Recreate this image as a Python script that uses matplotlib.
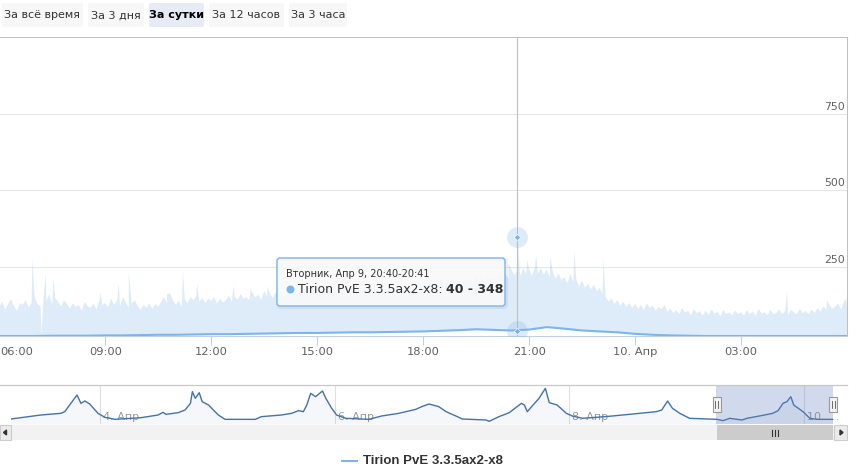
import numpy as np
import matplotlib
matplotlib.use('Agg')
import matplotlib.pyplot as plt
from matplotlib.patches import FancyBboxPatch, Polygon, Circle
from matplotlib.lines import Line2D
from matplotlib.transforms import IdentityTransform

plt.rcParams['font.family'] = ['DejaVu Sans']

# ---------------- data ----------------
series_name = "Tirion PvE 3.3.5ax2-x8"
buttons = ["За всё время", "За 3 дня", "За сутки", "За 12 часов", "За 3 часа"]
selected_button = 2

# main window: hours since Apr 9 00:00
window = (6.02, 30.0)
# max values, every 5 minutes from 06:00 Apr 9 to 06:00 Apr 10 (one row per hour)
high_base = [
    118, 135, 110, 128, 142, 120, 105, 130, 125, 140, 115, 132,   # 06
    150, 128, 120, 145, 138, 160, 125, 148, 135, 120, 140, 128,   # 07
    112, 130, 118, 125, 105, 135, 120, 115, 128, 110, 140, 125,   # 08
    130, 118, 145, 125, 138, 120, 150, 132, 115, 128, 140, 122,   # 09
    108, 125, 115, 130, 112, 128, 118, 135, 150, 128, 162, 140,   # 10
    125, 138, 118, 145, 130, 150, 140, 155, 135, 148, 130, 145,   # 11
    138, 150, 128, 145, 132, 140, 155, 135, 150, 142, 160, 145,   # 12
    150, 140, 165, 148, 158, 142, 170, 150, 160, 148, 168, 155,   # 13
    160, 150, 172, 158, 165, 155, 175, 160, 170, 158, 180, 165,   # 14
    168, 158, 180, 165, 175, 162, 185, 170, 178, 165, 188, 172,   # 15
    175, 165, 185, 172, 180, 170, 190, 178, 185, 172, 195, 180,   # 16
    182, 172, 192, 180, 188, 176, 198, 185, 190, 178, 200, 188,   # 17
    190, 180, 200, 188, 195, 185, 208, 192, 200, 188, 212, 198,   # 18
    205, 192, 215, 200, 210, 198, 220, 205, 215, 202, 225, 210,   # 19
    215, 205, 230, 215, 225, 210, 240, 222, 235, 218, 245, 225,   # 20
    240, 220, 250, 228, 245, 225, 240, 215, 235, 210, 228, 205,   # 21
    215, 195, 225, 200, 210, 185, 205, 180, 195, 175, 190, 170,   # 22
    180, 160, 150, 135, 145, 128, 140, 122, 135, 118, 130, 115,   # 23
    128, 112, 125, 108, 130, 115, 122, 105, 118, 110, 125, 102,   # 00
    112, 98, 108, 95, 115, 100, 105, 92, 110, 98, 104, 90,        # 01
    105, 92, 110, 96, 102, 88, 108, 95, 100, 90, 106, 94,         # 02
    100, 90, 108, 95, 103, 88, 112, 96, 100, 92, 108, 95,         # 03
    98, 110, 95, 105, 92, 108, 100, 95, 112, 98, 105, 94,         # 04
    110, 98, 115, 102, 120, 108, 125, 112, 118, 130, 110, 135,    # 05
    125]
# short peaks / dips of the max value
spike_times = ["06:56", "07:12", "07:19", "07:32", "08:52", "09:23", "09:40",
               "10:45", "11:12", "11:36", "12:38", "13:07", "13:36",
               "20:25", "20:40", "20:57", "21:12", "21:36", "22:17", "23:06",
               "04:18", "05:26", "05:58"]
spike_values = [277, 30, 228, 215, 165, 195, 232,
                160, 238, 195, 189, 175, 185,
                262, 348, 271, 287, 282, 303, 277,
                166, 140, 145]
# min values, every 30 minutes from 06:00 Apr 9 to 06:00 Apr 10
low_vals = [23, 23, 23, 24, 24, 24, 25, 25, 26, 27, 27, 28, 29, 29, 30, 31,
            32, 33, 33, 34, 35, 35, 36, 37, 38, 40, 42, 45, 43, 41, 44, 52,
            47, 41, 38, 35, 30, 27, 25, 24, 23, 23, 23, 23, 23, 23, 23, 23, 23]

x_ticks = [9, 12, 15, 18, 21, 24, 27]
x_labels = ["09:00", "12:00", "15:00", "18:00", "21:00", "10. Апр", "03:00"]
first_label = "06:00"
y_ticks = [250, 500, 750]
y_range = (23, 1000)

tooltip_time = 20 + 40 / 60
tooltip_low, tooltip_high = 40, 348
tooltip_header = "Вторник, Апр 9, 20:40-20:41"

# navigator: hours since Apr 3 00:00
nav_hours = [5.3, 11.9, 16.0, 16.8, 17.8, 19.3, 20.1, 20.9, 21.9, 23.6, 25.0, 27.1,
             32.4, 35.9, 36.9, 37.5, 40.0, 41.4, 42.5, 42.9, 43.5, 44.3, 44.9,
             46.2, 48.2, 49.6, 55.8, 57.0, 61.1, 63.2, 64.6, 65.6, 66.3, 67.1,
             68.1, 69.5, 70.2, 71.4, 72.4, 74.3, 79.0, 81.6, 85.1, 88.6, 89.8,
             91.3, 93.3, 94.8, 96.8, 98.1, 103.0, 103.6, 105.6, 107.7, 110.2,
             110.8, 111.4, 112.4, 113.8, 115.1, 115.9, 117.5, 119.4, 120.6,
             122.7, 125.5, 128.8, 132.3, 137.8, 138.9, 140.1, 141.1, 142.6,
             144.6, 150.2, 151.4, 152.8, 155.3, 156.3, 159.6, 161.6, 162.7,
             163.7, 164.5, 165.3, 165.9, 167.8, 169.2, 170.7, 173.9]
nav_values = [6, 19, 24, 29, 49, 79, 54, 61, 52, 24, 12, 6,
              11, 19, 27, 21, 26, 34, 54, 89, 69, 86, 59,
              49, 19, 6, 6, 14, 19, 24, 32, 29, 49, 84,
              74, 91, 69, 39, 19, 9, 6, 16, 24, 36, 44,
              52, 44, 29, 16, 7, 4, 0, 14, 26, 54,
              49, 29, 46, 69, 99, 56, 49, 24, 16,
              9, 12, 16, 21, 29, 34, 61, 39, 24,
              9, 6, 2, 9, 4, 9, 18, 24, 32,
              54, 59, 74, 49, 29, 9, 6, 6]
nav_range = (5.8, 173.93)
nav_ticks = [24, 72, 120, 168]
nav_labels = ["4. Апр", "6. Апр", "8. Апр", "10. …"]
nav_day_offset = 144  # Apr 9 00:00 in navigator hours

# ---------------- figure ----------------
W, H = 859, 475
fig = plt.figure(figsize=(W / 100, H / 100), dpi=100)
ID = IdentityTransform()


def fr(x0, y0, x1, y1):
    return [x0 / W, 1 - y1 / H, (x1 - x0) / W, (y1 - y0) / H]


def prect(x0, y0, x1, y1, **kw):
    p = FancyBboxPatch((x0, H - y1), x1 - x0, y1 - y0, transform=ID, **kw)
    fig.add_artist(p)
    return p


def hm(s):
    h, m = s.split(":")
    v = int(h) + int(m) / 60
    return v + 24 if v < 6 else v


BLUE = '#7cb5ec'

# ---- main axes
ax = fig.add_axes(fr(0, 37, 847, 336))
ht = 6 + np.arange(len(high_base)) / 12
st = np.array([hm(s) for s in spike_times])
t_all = np.concatenate([ht, st])
v_all = np.concatenate([np.array(high_base, float), np.array(spike_values, float)])
order = np.argsort(t_all, kind='stable')
t_all, v_all = t_all[order], v_all[order]
lt = 6 + np.arange(len(low_vals)) / 2
lv = np.array(low_vals, float)

ax.fill(np.concatenate([t_all, lt[::-1]]), np.concatenate([v_all, lv[::-1]]),
        color=BLUE, alpha=0.25, lw=0, zorder=2)
ax.plot(lt, lv, color=BLUE, lw=1.5, zorder=3, solid_joinstyle='round')

ax.set_xlim(*window)
ax.set_ylim(*y_range)
ax.set_yticks(y_ticks)
ax.tick_params(axis='y', length=0, labelleft=False)
ax.grid(axis='y', color='#E6E6E6', lw=0.75, zorder=0)
ax.set_axisbelow(True)
ax.set_xticks(x_ticks)
ax.set_xticklabels(x_labels)
ax.tick_params(axis='x', length=6.5, width=0.75, color='#C0D0E0', labelsize=8.25,
               labelcolor='#606060', pad=1.5)
ax.spines['left'].set_visible(False)
ax.spines['top'].set_color('#C0C0C0')
ax.spines['right'].set_color('#C0C0C0')
ax.spines['bottom'].set_color('#C0D0E0')
for s in ['top', 'right', 'bottom']:
    ax.spines[s].set_linewidth(0.75)

for v in y_ticks:
    ax.annotate(str(v), xy=(1, v), xycoords=('axes fraction', 'data'),
                xytext=(-2, 2), textcoords='offset pixels', ha='right', va='bottom',
                fontsize=7.8, color='#606060')
ax.annotate(first_label, xy=(0, 0), xycoords='axes fraction', xytext=(0, -11),
            textcoords='offset pixels', ha='left', va='top', fontsize=8.25,
            color='#606060')

# crosshair and hover markers
ax.axvline(tooltip_time, color='#C0C0C0', lw=0.8, zorder=4)
for v in (tooltip_low, tooltip_high):
    ax.plot([tooltip_time], [v], 'o', ms=15, color=BLUE, alpha=0.25, mec='none', zorder=5)
    ax.plot([tooltip_time], [v], 'D', ms=3.2, color=BLUE, mec='white', mew=0.4, zorder=6)

# ---- tooltip
prect(278, 259, 506, 307, boxstyle='round,pad=0,rounding_size=3', fc='none',
      ec='black', lw=3, alpha=0.06)
prect(277, 258, 505, 306, boxstyle='round,pad=0,rounding_size=3',
      fc=(0.976, 0.976, 0.976, 0.88), ec=BLUE, lw=1)
fig.text(286 / W, 1 - 274 / H, tooltip_header, fontsize=7.0, color='#333333', va='center')
fig.add_artist(Circle((290.5, H - 289.5), 3.3, transform=ID, color=BLUE))
t1 = fig.text(298 / W, 1 - 289.5 / H, series_name + ":", fontsize=9, color='#333333',
              va='center')
fig.canvas.draw()
ext = t1.get_window_extent(fig.canvas.get_renderer())
fig.text((ext.x1 + 3.5) / W, 1 - 289.5 / H, f"{tooltip_low} - {tooltip_high}",
         fontsize=9, color='#333333', va='center', fontweight='bold')

# ---- range selector buttons
btn_x = [(2, 83), (88, 144), (149, 204), (209, 284), (289, 347)]
for i, (lab, (x0, x1)) in enumerate(zip(buttons, btn_x)):
    sel = i == selected_button
    prect(x0, 3, x1, 27, boxstyle='round,pad=0,rounding_size=2',
          fc='#E6EBF5' if sel else '#F7F7F7', ec='none')
    fig.text(((x0 + x1) / 2) / W, 1 - 15.5 / H, lab, ha='center', va='center',
             fontsize=8, color='#000000' if sel else '#333333',
             fontweight='bold' if sel else 'normal')

# ---- navigator
nav = fig.add_axes(fr(11, 385, 833, 424))
nav.set_xlim(*nav_range)
nav.set_ylim(-8, 109)
for s in nav.spines.values():
    s.set_visible(False)
nav.set_xticks([])
nav.set_yticks([])
nav.patch.set_alpha(0)
for tk, lab in zip(nav_ticks, nav_labels):
    nav.axvline(tk, color='#E0E0E0', lw=0.8, zorder=0)
    nav.annotate(lab, xy=(tk, 0.19), xycoords=('data', 'axes fraction'),
                 xytext=(3, 0), textcoords='offset pixels', ha='left', va='center',
                 fontsize=8, color='#999999', zorder=1, annotation_clip=False)
nav.fill_between(nav_hours, nav_values, -8, color='#4572A7', alpha=0.05, lw=0, zorder=2)
nav.plot(nav_hours, nav_values, color='#4572A7', lw=1.0, zorder=3)
nav.axvspan(window[0] + nav_day_offset, nav_range[1], color='#6685C2', alpha=0.3,
            lw=0, zorder=4)
fig.add_artist(Line2D([0, 847], [H - 385, H - 385], transform=ID, color='#C8C8C8', lw=0.9))

# handles
for hx in (716.5, 833):
    prect(hx - 4, 397, hx + 4, 412, boxstyle='square,pad=0', fc='#F2F2F2', ec='#999999', lw=0.8)
    for dx in (-1.5, 1.5):
        fig.add_artist(Line2D([hx + dx, hx + dx], [H - 401, H - 408], transform=ID,
                              color='#555555', lw=0.6))

# ---- scrollbar
prect(0, 425, 847, 440, boxstyle='square,pad=0', fc='#F2F2F2', ec='none')
prect(716.5, 425, 833, 440, boxstyle='square,pad=0', fc='#CCCCCC', ec='none')
for dx in (-3, 0, 3):
    fig.add_artist(Line2D([775 + dx, 775 + dx], [H - 429.5, H - 435.5], transform=ID,
                          color='#333333', lw=0.8))
prect(0, 425, 11, 440, boxstyle='square,pad=0', fc='#EBEBEB', ec='#CCCCCC', lw=0.8)
prect(834, 425, 847, 440, boxstyle='square,pad=0', fc='#EBEBEB', ec='#CCCCCC', lw=0.8)
fig.add_artist(Polygon([[3.5, H - 432.5], [6.5, H - 430], [6.5, H - 435]], closed=True,
                       transform=ID, color='#333333'))
fig.add_artist(Polygon([[843, H - 432.5], [840, H - 430], [840, H - 435]], closed=True,
                       transform=ID, color='#333333'))

# ---- legend
fig.add_artist(Line2D([342, 357], [H - 461, H - 461], transform=ID, color=BLUE, lw=1.5))
fig.text(363 / W, 1 - 461.5 / H, series_name, fontsize=9.5, fontweight='bold',
         family=['Liberation Sans', 'DejaVu Sans'], color='#333333', va='center')

fig.savefig('out.png', dpi=100)
